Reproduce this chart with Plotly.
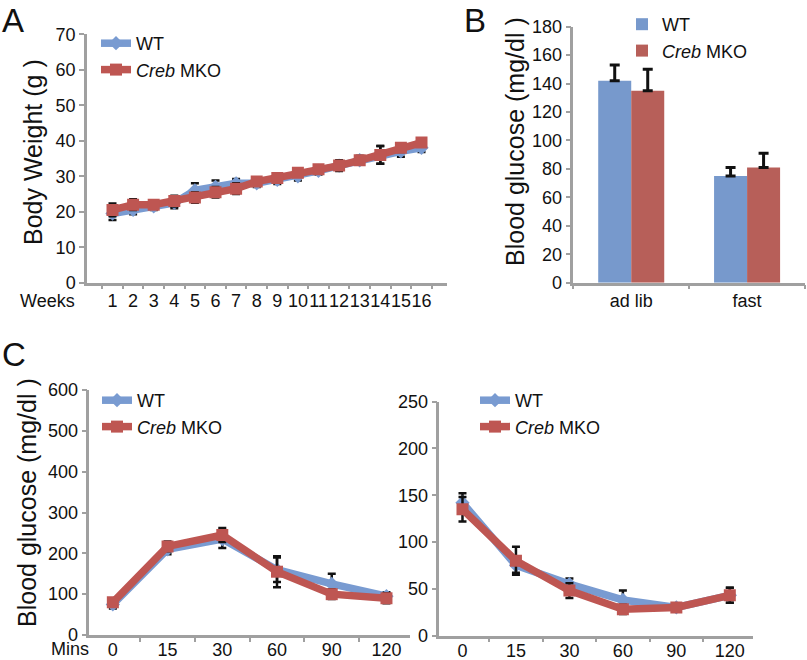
import plotly.graph_objects as go

# ---------------- data ----------------
weeks = [str(i) for i in range(1, 17)]
bw_wt = [19.5, 20.5, 21.5, 22.5, 26.0, 27.0, 28.0, 28.0, 29.0, 30.0, 31.5, 33.0, 34.5, 36.0, 37.0, 38.0]
bw_wt_err = [1.8, 1.2, 1.0, 1.5, 2.0, 1.8, 1.2, 1.0, 1.2, 1.2, 1.0, 1.2, 1.2, 2.5, 1.5, 1.2]
bw_ko = [20.5, 22.0, 22.0, 23.0, 24.0, 25.5, 26.5, 28.5, 29.5, 31.0, 32.0, 33.0, 34.5, 36.0, 38.0, 39.5]
bw_ko_err = [1.8, 1.5, 1.0, 1.5, 1.5, 1.5, 1.5, 1.0, 1.0, 1.0, 1.0, 1.5, 1.2, 2.5, 1.2, 1.2]

bg_cats = ["ad lib", "fast"]
bg_wt = [142, 75]
bg_wt_err = [11, 6]
bg_ko = [135, 81]
bg_ko_err = [15, 10]

mins = ["0", "15", "30", "60", "90", "120"]
gtt_wt = [75, 210, 235, 160, 125, 95]
gtt_wt_err = [10, 12, 22, 30, 25, 10]
gtt_ko = [80, 217, 245, 155, 100, 90]
gtt_ko_err = [10, 12, 17, 38, 12, 12]

itt_wt = [142, 75, 55, 38, 30, 43]
itt_wt_err = [10, 8, 6, 10, 3, 8]
itt_ko = [135, 80, 48, 28, 30, 43]
itt_ko_err = [13, 15, 8, 5, 3, 8]

WT_LINE = "#799BD1"
KO_LINE = "#BE5652"
WT_BAR = "#7799CC"
KO_BAR = "#B75F59"
AX = "#A0A0A0"
FONT = "Liberation Sans, Arial, sans-serif"

fig = go.Figure()


def err(vals, w=4, t=2.5):
    return dict(type="data", array=vals, visible=True, color="#111111", thickness=t, width=w)


def line_pair(x, wt, wte, ko, koe, xa, ya, leg):
    fig.add_trace(go.Scatter(
        x=x, y=wt, error_y=err(wte), mode="lines+markers", name="WT",
        line=dict(color=WT_LINE, width=7.5), marker=dict(symbol="diamond", size=11, color=WT_LINE),
        xaxis=xa, yaxis=ya, legend=leg, legendgroup=leg + "wt"))
    fig.add_trace(go.Scatter(
        x=x, y=ko, error_y=err(koe), mode="lines+markers", name="<i>Creb</i> MKO",
        line=dict(color=KO_LINE, width=7.5), marker=dict(symbol="square", size=12, color=KO_LINE),
        xaxis=xa, yaxis=ya, legend=leg, legendgroup=leg + "ko"))


# Panel A
line_pair(weeks, bw_wt, bw_wt_err, bw_ko, bw_ko_err, "x", "y", "legend")

# Panel B
fig.add_trace(go.Bar(
    x=bg_cats, y=bg_wt, name="WT", marker=dict(color=WT_BAR, line=dict(width=0)),
    error_y=dict(type="data", symmetric=False, array=bg_wt_err, arrayminus=[0, 0],
                 color="#111111", thickness=3, width=5),
    xaxis="x2", yaxis="y2", legend="legend2", legendgroup="bwt"))
fig.add_trace(go.Bar(
    x=bg_cats, y=bg_ko, name="<i>Creb</i> MKO", marker=dict(color=KO_BAR, line=dict(width=0)),
    error_y=dict(type="data", symmetric=False, array=bg_ko_err, arrayminus=[0, 0],
                 color="#111111", thickness=3, width=5),
    xaxis="x2", yaxis="y2", legend="legend2", legendgroup="bko"))

# Panel C
line_pair(mins, gtt_wt, gtt_wt_err, gtt_ko, gtt_ko_err, "x3", "y3", "legend3")
line_pair(mins, itt_wt, itt_wt_err, itt_ko, itt_ko_err, "x4", "y4", "legend4")


def xax(domain, anchor, cats, standoff=0):
    return dict(domain=domain, anchor=anchor, type="category", showline=True, linecolor=AX,
                linewidth=2.5, ticks="outside", tickson="boundaries", ticklen=4, tickcolor=AX,
                tickwidth=2, showgrid=False, zeroline=False, tickangle=0,
                tickmode="array", tickvals=cats, ticktext=cats, ticklabelstandoff=standoff,
                tickfont=dict(size=18, color="#111111", family=FONT))


def yax(domain, anchor, rng, dtick):
    return dict(domain=domain, anchor=anchor, range=rng, dtick=dtick, showline=True, linecolor=AX,
                linewidth=2.5, ticks="outside", ticklen=5, tickcolor=AX, tickwidth=2,
                showgrid=False, zeroline=False,
                tickfont=dict(size=18, color="#111111", family=FONT))


def legend(x, y, gap=10):
    return dict(x=x, y=y, xanchor="left", yanchor="top", bgcolor="rgba(0,0,0,0)",
                font=dict(size=18, color="#111111", family=FONT), tracegroupgap=gap,
                itemwidth=30, traceorder="normal")


W, H = 807, 660
fig.update_layout(
    width=W, height=H, margin=dict(l=0, r=0, t=0, b=0, autoexpand=False),
    paper_bgcolor="white", plot_bgcolor="white",
    font=dict(family=FONT, color="#111111"),
    bargap=0.43, bargroupgap=0, barmode="group",
    xaxis=xax([87 / W, 447 / W], "y", weeks),
    yaxis=yax([1 - 282.7 / H, 1 - 34.3 / H], "x", [0, 70], 10),
    xaxis2=xax([573.3 / W, 805 / W], "y2", bg_cats),
    yaxis2=yax([1 - 282.7 / H, 1 - 26.7 / H], "x2", [0, 180], 20),
    xaxis3=xax([89.3 / W, 410 / W], "y3", mins, -3),
    yaxis3=yax([1 - 635 / H, 1 - 390 / H], "x3", [0, 600], 100),
    xaxis4=xax([439.3 / W, 753 / W], "y4", mins, -3),
    yaxis4=yax([1 - 635.5 / H, 1 - 401.7 / H], "x4", [0, 250], 50),
    legend=legend(96 / W, 1 - 25 / H, 11),
    legend2=legend(622 / W, 1 - 6 / H, 8),
    legend3=legend(97 / W, 1 - 382 / H, 10),
    legend4=legend(475 / W, 1 - 382 / H, 10),
)

ann = [
    dict(text="A", x=0 / W, y=1 - 0 / H, xanchor="left", yanchor="top", font=dict(size=33)),
    dict(text="B", x=462 / W, y=1 - 0 / H, xanchor="left", yanchor="top", font=dict(size=33)),
    dict(text="C", x=0 / W, y=1 - 334 / H, xanchor="left", yanchor="top", font=dict(size=33)),
    dict(text="Body Weight (g )", x=33 / W, y=1 - 152 / H, textangle=-90, font=dict(size=25)),
    dict(text="Blood glucose (mg/dl )", x=515 / W, y=1 - 142 / H, textangle=-90, font=dict(size=25)),
    dict(text="Blood glucose (mg/dl )", x=27 / W, y=1 - 503 / H, textangle=-90, font=dict(size=25)),
    dict(text="Weeks", x=47 / W, y=1 - 301 / H, font=dict(size=18)),
    dict(text="Mins", x=70 / W, y=1 - 649 / H, font=dict(size=18)),
]
for a in ann:
    a.setdefault("xanchor", "center")
    a.setdefault("yanchor", "middle")
    a.update(xref="paper", yref="paper", showarrow=False)
    a["font"].update(family=FONT, color="#111111")
fig.update_layout(annotations=ann)

fig.write_html("out.html", config={"displayModeBar": False},
               post_script="document.body.style.margin='0';document.body.style.padding='0';")
